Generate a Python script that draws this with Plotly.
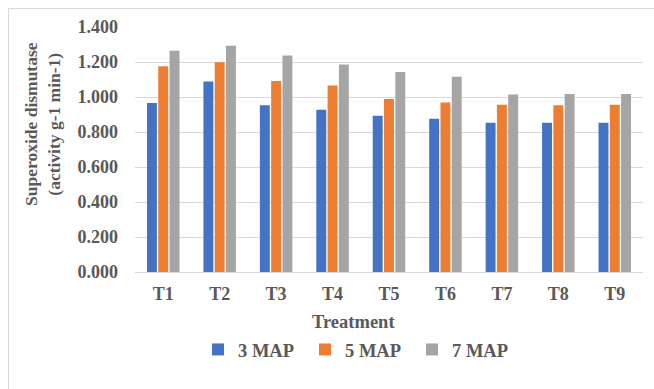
import plotly.graph_objects as go

categories = ["T1", "T2", "T3", "T4", "T5", "T6", "T7", "T8", "T9"]
map3 = [0.965, 1.088, 0.953, 0.927, 0.893, 0.875, 0.853, 0.853, 0.853]
map5 = [1.176, 1.198, 1.092, 1.065, 0.988, 0.968, 0.955, 0.953, 0.955]
map7 = [1.265, 1.293, 1.237, 1.186, 1.143, 1.115, 1.015, 1.017, 1.017]
series_names = ["3 MAP", "5 MAP", "7 MAP"]
colors = ["#4472C4", "#ED7D31", "#A5A5A5"]
yticks = [0, 0.2, 0.4, 0.6, 0.8, 1.0, 1.2, 1.4]

FONT = "Liberation Serif"
TXT = "#595959"

fig = go.Figure()
for name, vals, col in zip(series_names, [map3, map5, map7], colors):
    fig.add_trace(go.Bar(x=categories, y=vals, name=name, marker_color=col,
                         marker_line_width=0))

fig.update_layout(
    width=654, height=389,
    margin=dict(l=135, r=11, t=27, b=117),
    paper_bgcolor="white", plot_bgcolor="white",
    barmode="group", bargap=0.4, bargroupgap=0.12,
    font=dict(family=FONT, size=18, color=TXT),
    showlegend=True,
    legend=dict(orientation="h", xanchor="center", yanchor="middle",
                x=0.44, y=-0.318,
                font=dict(family=FONT, size=18.5, color=TXT, weight="bold"),
                itemwidth=30, entrywidth=62, entrywidthmode="pixels",
                traceorder="normal", itemclick=False),
)
fig.update_yaxes(range=[0, 1.4], tickvals=yticks, tickformat=".3f",
                 showgrid=True, gridcolor="#d9d9d9", gridwidth=1,
                 zeroline=False, showline=False, ticks="",
                 tickfont=dict(family=FONT, size=18, color=TXT, weight="bold"),
                 ticklabelstandoff=16)
fig.update_xaxes(showline=True, linecolor="#d9d9d9", linewidth=1, ticks="",
                 tickfont=dict(family=FONT, size=18, color=TXT, weight="bold"),
                 ticklabelstandoff=5)

fig.add_annotation(text="<b>Superoxide dismutase<br>(activity g-1 min-1)</b>",
                   xref="paper", yref="paper",
                   x=(42 - 135) / 508, y=(272 - 124) / 245,
                   showarrow=False, textangle=-90, xanchor="center", yanchor="middle",
                   font=dict(family=FONT, size=17.5, color=TXT))
fig.add_annotation(text="<b>Treatment</b>", xref="paper", yref="paper",
                   x=(353 - 135) / 508, y=(272 - 322) / 245,
                   showarrow=False, xanchor="center", yanchor="middle",
                   font=dict(family=FONT, size=18.5, color=TXT))

fig.add_shape(type="rect", xref="paper", yref="paper",
              x0=(8.5 - 135) / 508, x1=(700 - 135) / 508,
              y0=(272 - 420) / 245, y1=(272 - 8.5) / 245,
              line=dict(color="#d9d9d9", width=1), fillcolor="rgba(0,0,0,0)",
              layer="below")

fig.write_html("out.html")
